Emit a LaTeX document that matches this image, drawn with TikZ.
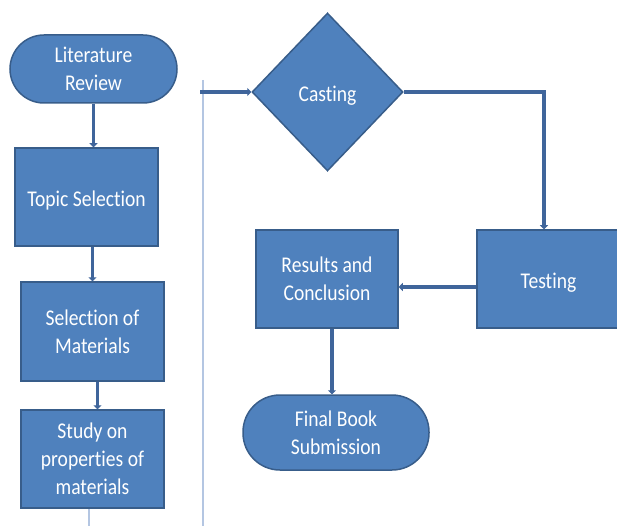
\documentclass[tikz,border=0pt]{standalone}
\usepackage{fontspec}
\setmainfont{Carlito}[FakeStretch=0.87,Ligatures={NoCommon}]
\usetikzlibrary{shapes.geometric,arrows.meta}
\definecolor{boxfill}{HTML}{4F81BD}
\definecolor{boxline}{HTML}{385D8A}
\definecolor{conn}{HTML}{3F659B}
\definecolor{thin}{HTML}{B4C6E2}
\tikzset{
  box/.style={draw=boxline, line width=1.5pt, fill=boxfill, text=white, align=center, inner sep=0pt,
    font=\fontsize{22.5}{28}\selectfont, execute at begin node={\rule{0pt}{22pt}}},
  rect/.style={box, minimum width=143pt, minimum height=98pt},
  pill/.style={box, rounded corners=#1},
  conline/.style={draw=conn, line width=3.8pt},
  arr/.style={conline, -{Triangle[length=4pt,width=8pt]}},
  thinline/.style={draw=thin, line width=1.2pt}
}
\begin{document}
\begin{tikzpicture}[x=1pt,y=-1pt]
\useasboundingbox (0,0) rectangle (617,526);
% thin lines
\coordinate (vt) at (203,80);
\coordinate (vb) at (203,526);
\draw[thinline] (vt) -- (vb);
% nodes
\node[pill=34pt, minimum width=167pt, minimum height=68pt] (lit) at (93.5,69) {Literature\\Review};
\node[rect] (topic) at (86.5,197) {Topic Selection};
\node[rect, minimum height=99pt] (selmat) at (92.5,331.5) {Selection of\\Materials};
\node[rect] (study) at (92.5,459) {Study on\\properties of\\materials};
\node[box, diamond, minimum width=151pt, minimum height=158pt] (casting) at (327.5,92) {Casting};
\node[rect] (testing) at (548.5,279) {Testing};
\node[rect, minimum width=142pt] (results) at (327,279) {Results and\\Conclusion};
\node[pill=37pt, minimum width=186pt, minimum height=75pt] (final) at (336,432.5) {Final Book\\Submission};
\coordinate (sb) at (89,526);
\draw[thinline] ([xshift=-3.5pt]study.south) -- (sb);
% connectors
\coordinate (start) at (200,92);
\draw[arr] (lit.south) -- (lit.south |- topic.north);
\draw[arr] (selmat.north |- topic.south) -- (selmat.north);
\draw[arr] ([xshift=5pt]selmat.south) -- ([xshift=5pt]study.north);
\draw[arr] (start) -- (casting.west);
\draw[arr] (casting.east) -| ([xshift=-4.5pt]testing.north);
\draw[arr] ([yshift=-8pt]testing.west) -- ([yshift=-8pt]results.east);
\draw[arr] ([xshift=5pt]results.south) -- ([xshift=5pt]results.south |- final.north);
\end{tikzpicture}
\end{document}
